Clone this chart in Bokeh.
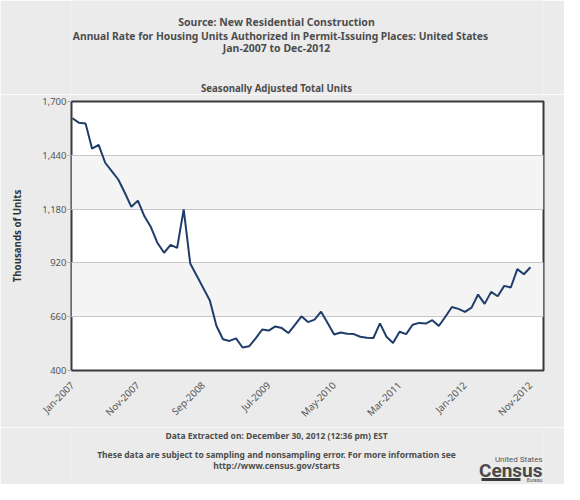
import math
from bokeh.plotting import figure
from bokeh.layouts import column
from bokeh.models import Range1d, FixedTicker, NumeralTickFormatter
from bokeh.core.properties import value
from bokeh.embed import file_html
from bokeh.resources import INLINE

# ---- data -------------------------------------------------------------
month_names = ["Jan", "Feb", "Mar", "Apr", "May", "Jun",
               "Jul", "Aug", "Sep", "Oct", "Nov", "Dec"]
years = [2007, 2008, 2009, 2010, 2011, 2012]
months = [f"{m}-{y}" for y in years for m in month_names]

units_2007 = [1619, 1597, 1594, 1472, 1490, 1404, 1364, 1323, 1259, 1191, 1221, 1145]
units_2008 = [1092, 1016, 969, 1007, 993, 1179, 917, 858, 798, 738, 616, 551]
units_2009 = [543, 555, 511, 517, 555, 598, 593, 613, 605, 581, 621, 662]
units_2010 = [634, 646, 684, 630, 574, 584, 578, 576, 563, 558, 557, 628]
units_2011 = [563, 533, 587, 576, 621, 630, 627, 643, 615, 660, 707, 698]
units_2012 = [683, 704, 767, 722, 780, 759, 809, 801, 890, 865, 899]

values = units_2007 + units_2008 + units_2009 + units_2010 + units_2011 + units_2012
x_idx = list(range(len(values)))

y_ticks = [400, 660, 920, 1180, 1440, 1700]
x_tick_labels = ["Jan-2007", "Nov-2007", "Sep-2008", "Jul-2009",
                 "May-2010", "Mar-2011", "Jan-2012", "Nov-2012"]
x_tick_pos = [months.index(m) for m in x_tick_labels]

title_lines = ["Source: New Residential Construction",
               "Annual Rate for Housing Units Authorized in Permit-Issuing Places: United States",
               "Jan-2007 to Dec-2012"]
subtitle = "Seasonally Adjusted Total Units"
footer_lines = ["Data Extracted on: December 30, 2012 (12:36 pm) EST",
                "These data are subject to sampling and nonsampling error. For more information see",
                "http://www.census.gov/starts"]

# ---- styling ----------------------------------------------------------
FONT = "Noto Sans"
TXT = "#4d4d4d"
BG = "#ebebeb"
W = 564
BL, BR = 71, 21          # side borders of the chart (text panels share this frame)


def text_panel(h):
    # x data units equal figure pixels inside the (aligned) frame
    f = figure(width=W, height=h, x_range=Range1d(BL, W - BR), y_range=Range1d(0, h),
               output_backend="svg", toolbar_location=None, title=None,
               min_border_left=BL, min_border_right=BR,
               min_border_top=0, min_border_bottom=0)
    f.axis.visible = False
    f.grid.grid_line_color = None
    f.outline_line_color = None
    f.background_fill_color = BG
    f.border_fill_color = BG
    return f


def put(f, txt, x, y, size, bold=True, color=TXT, align="center", font=FONT):
    f.text(x=[x], y=[y], text=[txt], text_font=value(font), text_font_size=value(size),
           text_font_style="bold" if bold else "normal", text_color=color,
           text_align=align, text_baseline="middle")


CX = 276  # centre of the text block

# header
head = text_panel(94)
put(head, title_lines[0], CX, 72.5, "10.5px")
put(head, title_lines[1], 280, 59, "10.3px")
put(head, title_lines[2], CX, 47, "10.5px")
put(head, subtitle, CX, 6.5, "9.7px")

# ---- main chart -------------------------------------------------------
p = figure(width=W, height=333, title=None,
           x_range=Range1d(-0.15, len(months)), y_range=Range1d(y_ticks[0], y_ticks[-1]),
           output_backend="svg", toolbar_location=None,
           min_border_left=BL, min_border_right=BR, min_border_top=7, min_border_bottom=50)

p.border_fill_color = BG
p.background_fill_color = "white"
p.outline_line_color = "#3a3a3a"
p.outline_line_width = 2

p.xgrid.grid_line_color = None
p.ygrid.ticker = FixedTicker(ticks=y_ticks)
p.ygrid.grid_line_color = "#c8c8c8"
p.ygrid.grid_line_width = 1
p.ygrid.band_fill_color = "#f4f4f4"
p.ygrid.band_fill_alpha = 1.0

ya = p.yaxis[0]
ya.ticker = FixedTicker(ticks=y_ticks)
ya.formatter = NumeralTickFormatter(format="0,0")
ya.major_label_text_font = FONT
ya.major_label_text_font_size = "9.5px"
ya.major_label_text_color = "#555555"
ya.axis_line_color = None
ya.major_tick_out = 4
ya.major_tick_in = 0
ya.major_tick_line_color = "#b0b0b0"
ya.minor_tick_line_color = None
ya.major_label_standoff = 1
ya.axis_label = "Thousands of Units"
ya.axis_label_text_font = FONT
ya.axis_label_text_font_style = "bold"
ya.axis_label_text_font_size = "9.7px"
ya.axis_label_text_color = "#333333"
ya.axis_label_standoff = 15

xa = p.xaxis[0]
xa.ticker = FixedTicker(ticks=x_tick_pos)
xa.major_label_overrides = {pos: lab for pos, lab in zip(x_tick_pos, x_tick_labels)}
xa.major_label_orientation = math.pi / 4
xa.major_label_text_font = FONT
xa.major_label_text_font_size = "9.7px"
xa.major_label_text_color = "#555555"
xa.axis_line_color = None
xa.major_tick_line_color = None
xa.minor_tick_line_color = None
xa.major_label_standoff = 7

p.line(x_idx, values, line_color="#1f3d6b", line_width=2)

# ---- footer -----------------------------------------------------------
foot = text_panel(57)
for txt, yy in zip(footer_lines, [49, 30, 19.5]):
    put(foot, txt, CX, yy, "8.5px")
put(foot, "United States", 542, 25, "8px", bold=False, color="#555555", align="right", font="Roboto")
put(foot, "Census", 542, 14, "19px", bold=True, color="#4a4a4a", align="right", font="Roboto")
foot.quad(left=[481], right=[520], bottom=[3.5], top=[6.5], fill_color="#3a3a3a", line_color=None)
put(foot, "Bureau", 542, 5, "5px", bold=False, color="#555555", align="right", font="Roboto")

layout = column(head, p, foot, spacing=0)
open("out.html", "w").write(file_html(layout, INLINE))
